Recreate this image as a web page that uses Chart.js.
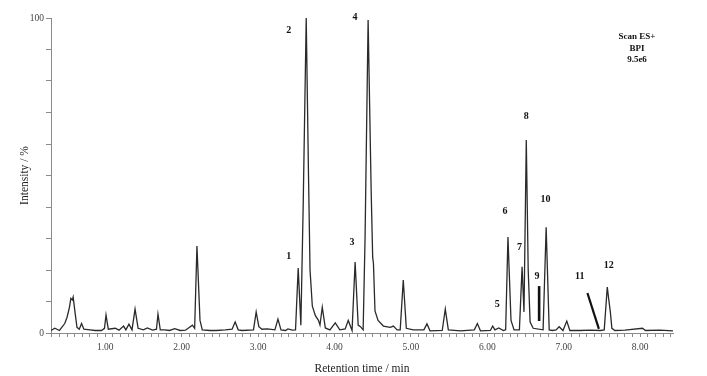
<!DOCTYPE html>
<html>
<head>
<meta charset="utf-8">
<script src="https://cdn.jsdelivr.net/npm/chart.js"></script>
<style>
html, body { margin: 0; padding: 0; background: #fff; }
#wrap { width: 707px; height: 376px; }
</style>
</head>
<body>
<div id="wrap"><canvas id="bpiChart" width="707" height="376"></canvas></div>
<script>
// base peak intensity trace (retention time in min, intensity in %)
var retentionTimes = [
    0.29, 0.34, 0.40, 0.47, 0.50, 0.53, 0.55, 0.57, 0.58, 0.61, 0.63, 0.66, 0.69, 0.72, 0.80, 0.87, 0.95, 0.99,
    1.01, 1.04, 1.13, 1.18, 1.24, 1.27, 1.31, 1.35, 1.39, 1.43, 1.50, 1.55, 1.62, 1.67, 1.69, 1.72, 1.78, 1.84,
    1.91, 1.98, 2.05, 2.14, 2.17, 2.20, 2.24, 2.27, 2.37, 2.45, 2.57, 2.66, 2.70, 2.74, 2.79, 2.94, 2.975, 3.01,
    3.05, 3.12, 3.22, 3.26, 3.30, 3.36, 3.39, 3.45, 3.49, 3.525, 3.56, 3.59, 3.63, 3.66, 3.68, 3.71, 3.75, 3.79,
    3.81, 3.84, 3.88, 3.94, 4.01, 4.07, 4.14, 4.18, 4.23, 4.27, 4.31, 4.34, 4.375, 4.40, 4.44, 4.48, 4.50, 4.51,
    4.53, 4.57, 4.64, 4.73, 4.77, 4.82, 4.86, 4.90, 4.94, 5.03, 5.17, 5.21, 5.25, 5.41, 5.45, 5.49, 5.65, 5.83,
    5.87, 5.91, 6.04, 6.07, 6.10, 6.15, 6.21, 6.24, 6.27, 6.31, 6.35, 6.42, 6.455, 6.48, 6.51, 6.535, 6.56, 6.60,
    6.73, 6.77, 6.81, 6.85, 6.90, 6.94, 6.99, 7.04, 7.08, 7.21, 7.35, 7.48, 7.53, 7.57, 7.59, 7.61, 7.63, 7.67,
    7.80, 8.03, 8.07, 8.26, 8.43
];
var intensities = [
    0.8, 1.5, 0.8, 3.0, 5.0, 8.0, 11.0, 10.5, 11.4, 5.5, 1.8, 1.2, 3.0, 1.2, 1.0, 0.8, 0.8, 1.5,
    5.7, 1.2, 1.5, 0.9, 2.2, 1.0, 2.8, 1.0, 7.6, 1.5, 1.0, 1.6, 0.9, 1.2, 6.0, 1.0, 1.0, 0.8,
    1.4, 0.8, 0.9, 2.5, 1.5, 27.6, 4.0, 1.0, 0.8, 0.8, 1.0, 1.2, 3.5, 1.0, 0.8, 1.0, 6.7, 2.0,
    1.2, 1.3, 1.0, 4.4, 1.0, 0.8, 1.3, 0.9, 1.0, 20.6, 2.5, 40, 100, 50, 20, 8.5, 5.5, 4.0,
    2.5, 8.2, 1.6, 1.0, 3.2, 1.0, 1.3, 4.0, 0.8, 22.5, 2.5, 2.0, 1.0, 30, 99.4, 45, 24, 22,
    7.0, 4.0, 2.2, 1.8, 2.2, 1.0, 1.0, 16.8, 1.5, 1.0, 1.0, 2.9, 0.7, 0.8, 7.6, 1.0, 0.7, 1.0,
    3.0, 0.7, 0.8, 2.2, 1.0, 1.6, 0.8, 1.0, 30.5, 4.0, 1.0, 1.0, 21, 6.7, 61.3, 20, 3.5, 1.5,
    1.0, 33.6, 1.0, 0.8, 1.0, 2.0, 0.8, 3.8, 0.8, 0.8, 0.9, 0.8, 1.0, 14.6, 10.5, 6.7, 1.5, 0.8,
    0.9, 1.5, 0.8, 0.9, 0.7
];

// peak numbers and where they sit
var peakNames = ['1', '2', '3', '4', '5', '6', '7', '8', '9', '10', '11', '12'];
var peakLabelTimes = [3.40, 3.40, 4.23, 4.27, 6.13, 6.23, 6.42, 6.51, 6.65, 6.76, 7.21, 7.59];
var peakLabelHeights = [24.4, 95.9, 28.6, 100.3, 9.2, 38.7, 27.3, 68.9, 18.1, 42.5, 18.1, 21.6];

// the two pointer strokes for peaks 9 and 11
var mark9Times = [6.678, 6.678];
var mark9Values = [3.8, 14.9];
var mark11Times = [7.31, 7.46];
var mark11Values = [12.7, 1.3];

var yLabelled = [0, 100];
var scanInfo = ['Scan ES+', 'BPI', '9.5e6'];

function toPoints(xs, ys) {
    var pts = [];
    for (var i = 0; i < xs.length; i++) pts.push({ x: xs[i], y: ys[i] });
    return pts;
}

var serif = '"Liberation Serif", "Times New Roman", serif';

var textPlugin = {
    id: 'peakText',
    afterDatasetsDraw: function (chart) {
        var ctx = chart.ctx;
        var xs = chart.scales.x;
        var ys = chart.scales.y;
        ctx.save();
        ctx.fillStyle = '#111';
        ctx.textAlign = 'center';
        ctx.textBaseline = 'middle';
        ctx.font = 'bold 10px ' + serif;
        for (var i = 0; i < peakNames.length; i++) {
            ctx.fillText(peakNames[i], xs.getPixelForValue(peakLabelTimes[i]), ys.getPixelForValue(peakLabelHeights[i]));
        }
        ctx.font = 'bold 9px ' + serif;
        for (var j = 0; j < scanInfo.length; j++) {
            ctx.fillText(scanInfo[j], chart.chartArea.right - 36, chart.chartArea.top + 19 + j * 11.5);
        }
        ctx.restore();
    }
};

var ctx = document.getElementById('bpiChart');
new Chart(ctx, {
    type: 'line',
    data: {
        datasets: [
            {
                data: toPoints(retentionTimes, intensities),
                borderColor: '#2a2a2a',
                borderWidth: 1.3,
                pointRadius: 0,
                tension: 0
            }, {
                data: toPoints(mark9Times, mark9Values),
                borderColor: '#111',
                borderWidth: 2.6,
                pointRadius: 0
            }, {
                data: toPoints(mark11Times, mark11Values),
                borderColor: '#111',
                borderWidth: 2.2,
                pointRadius: 0
            }
        ]
    },
    options: {
        responsive: false,
        animation: false,
        layout: { padding: { top: 18, right: 34, left: 0, bottom: 0 } },
        plugins: {
            legend: { display: false },
            tooltip: { enabled: false }
        },
        scales: {
            x: {
                type: 'linear',
                min: 0.29,
                max: 8.43,
                afterFit: function (scale) { scale.height = 43; },
                afterBuildTicks: function (scale) {
                    var t = [];
                    for (var i = 3; i <= 84; i++) t.push({ value: i / 10 });
                    scale.ticks = t;
                },
                grid: { drawOnChartArea: false, tickLength: 4, color: '#8a8a8a' },
                border: { color: '#8a8a8a' },
                ticks: {
                    autoSkip: false,
                    maxRotation: 0,
                    padding: 5,
                    color: '#444',
                    font: { family: serif, size: 9.5 },
                    callback: function (v) {
                        return Math.abs(v - Math.round(v)) < 1e-6 ? v.toFixed(2) : '';
                    }
                },
                title: {
                    display: true,
                    text: 'Retention time / min',
                    color: '#222',
                    font: { family: serif, size: 11.5 },
                    padding: { top: 4, bottom: 0 }
                }
            },
            y: {
                min: 0,
                max: 100,
                afterFit: function (scale) { scale.width = 51; },
                grid: { drawOnChartArea: false, tickLength: 5, color: '#8a8a8a' },
                border: { color: '#8a8a8a' },
                ticks: {
                    stepSize: 10,
                    padding: 2,
                    color: '#444',
                    font: { family: serif, size: 9.5 },
                    callback: function (v) {
                        return yLabelled.indexOf(v) >= 0 ? String(v) : '';
                    }
                },
                title: {
                    display: true,
                    text: 'Intensity / %',
                    color: '#222',
                    font: { family: serif, size: 11.5 },
                    padding: { top: 18, bottom: 0 }
                }
            }
        }
    },
    plugins: [textPlugin]
});
</script>
</body>
</html>
